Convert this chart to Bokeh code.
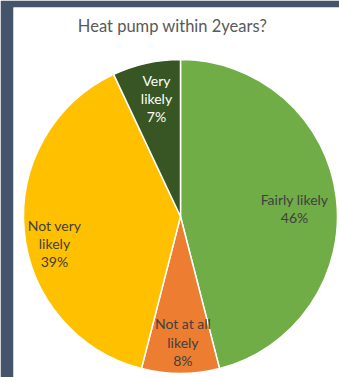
import math
from bokeh.plotting import figure
from bokeh.models import Range1d, ColumnDataSource, Label
from bokeh.core.properties import value
from bokeh.embed import file_html
from bokeh.resources import INLINE

# Survey answers, clockwise from 12 o'clock
categories = ["Fairly likely", "Not at all likely", "Not very likely", "Very likely"]
shares = [46, 8, 39, 7]
colors = ["#70AD47", "#ED7D31", "#FFC000", "#375623"]
label_colors = ["#404040", "#404040", "#404040", "#FFFFFF"]
label_texts = ["Fairly likely", "Not at all\nlikely", "Not very\nlikely", "Very\nlikely"]

# label placement: fraction of radius and angular nudge (degrees, clockwise)
label_radius_frac = [0.728, 0.80, 0.821, 0.767]
label_angle_nudge = [3.2, -1.1, -6.7, 1.1]

W, H = 339, 377
LEFT, TOP = 13, 7
cx, cy, R = 167, 161, 157

p = figure(width=W, height=H, output_backend="svg", toolbar_location=None,
           x_range=Range1d(0, W - LEFT), y_range=Range1d(0, H - TOP),
           min_border_left=LEFT, min_border_top=TOP, min_border_right=0, min_border_bottom=0)
p.axis.visible = False
p.grid.visible = False
p.outline_line_color = None
p.border_fill_color = "#44546A"
p.background_fill_color = "#FFFFFF"

total = sum(shares)
starts, ends, lx, ly, texts = [], [], [], [], []
cum = 0.0
for i, s in enumerate(shares):
    f0 = cum / total
    f1 = (cum + s) / total
    cum += s
    starts.append(math.pi / 2 - 2 * math.pi * f0)
    ends.append(math.pi / 2 - 2 * math.pi * f1)
    mid_deg = (f0 + f1) / 2 * 360 + label_angle_nudge[i]
    r = R * label_radius_frac[i]
    lx.append(cx + r * math.sin(math.radians(mid_deg)))
    ly.append(cy + r * math.cos(math.radians(mid_deg)))
    texts.append(f"{label_texts[i]}\n{round(s / total * 100)}%")

src = ColumnDataSource(dict(start=starts, end=ends, color=colors,
                            x=[cx] * len(shares), y=[cy] * len(shares)))
p.wedge(x="x", y="y", radius=R, radius_units="data", start_angle="start", end_angle="end",
        direction="clock", fill_color="color", line_color="#FFFFFF", line_width=1.5, source=src)

lsrc = ColumnDataSource(dict(x=lx, y=ly, text=texts, color=label_colors))
p.text(x="x", y="y", text="text", text_color="color", source=lsrc,
       text_font=value("Lato"), text_font_size="14px", text_align="center",
       text_baseline="middle", text_line_height=1.08)

p.add_layout(Label(x=(W - LEFT) / 2 - 4, y=H - TOP - 18, text="Heat pump within 2years?",
                   text_font="Lato", text_font_size="16.5px", text_color="#595959",
                   text_align="center", text_baseline="middle"))

open("out.html", "w").write(file_html(p, INLINE))
